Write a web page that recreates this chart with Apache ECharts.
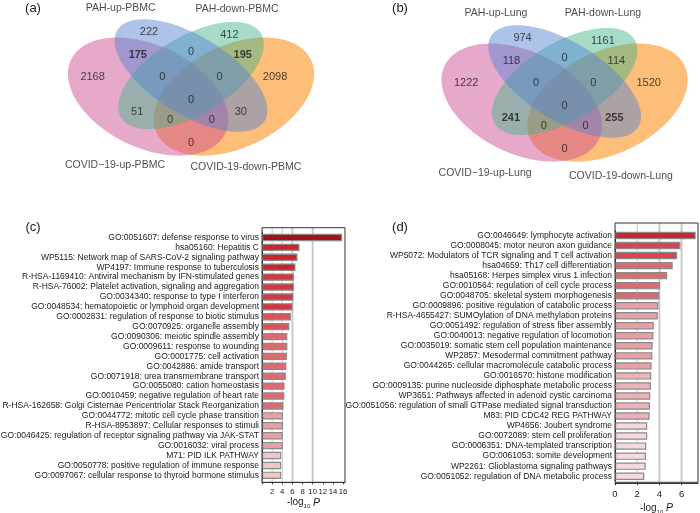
<!DOCTYPE html>
<html><head><meta charset="utf-8">
<script src="https://cdn.jsdelivr.net/npm/echarts@6/dist/echarts.min.js"></script>
<style>html,body{margin:0;padding:0;background:#fff}#c{width:700px;height:513px}</style>
</head><body><div id="c"></div>
<script>
// ---------------- DATA ----------------
// Venn regions: A = COVID-19-up, B = PAH-up, C = PAH-down, D = COVID-19-down
const vennSetsA = ['COVID\u221219-up-PBMC', 'PAH-up-PBMC', 'PAH-down-PBMC', 'COVID-19-down-PBMC'];
const vennSetsB = ['COVID\u221219-up-Lung', 'PAH-up-Lung', 'PAH-down-Lung', 'COVID-19-down-Lung'];
const vennRegions = ['B', 'C', 'AB', 'BC', 'CD', 'A', 'ABC', 'BCD', 'D', 'ABCD', 'AC', 'BD', 'ACD', 'ABD', 'AD'];
const vennCountsA = [222, 412, 175, 0, 195, 2168, 0, 0, 2098, 0, 51, 30, 0, 0, 0];
const vennCountsB = [974, 1161, 118, 0, 114, 1222, 0, 0, 1520, 0, 241, 255, 0, 0, 0];
const vennHighlightA = ['AB', 'CD'];
const vennHighlightB = ['AC', 'BD'];

const catsC = [
  'GO:0051607: defense response to virus',
  'hsa05160: Hepatitis C',
  'WP5115: Network map of SARS-CoV-2 signaling pathway',
  'WP4197: Immune response to tuberculosis',
  'R-HSA-1169410: Antiviral mechanism by IFN-stimulated genes',
  'R-HSA-76002: Platelet activation, signaling and aggregation',
  'GO:0034340: response to type I interferon',
  'GO:0048534: hematopoietic or lymphoid organ development',
  'GO:0002831: regulation of response to biotic stimulus',
  'GO:0070925: organelle assembly',
  'GO:0090306: meiotic spindle assembly',
  'GO:0009611: response to wounding',
  'GO:0001775: cell activation',
  'GO:0042886: amide transport',
  'GO:0071918: urea transmembrane transport',
  'GO:0055080: cation homeostasis',
  'GO:0010459: negative regulation of heart rate',
  'R-HSA-162658: Golgi Cisternae Pericentriolar Stack Reorganization',
  'GO:0044772: mitotic cell cycle phase transition',
  'R-HSA-8953897: Cellular responses to stimuli',
  'GO:0046425: regulation of receptor signaling pathway via JAK-STAT',
  'GO:0016032: viral process',
  'M71: PID ILK PATHWAY',
  'GO:0050778: positive regulation of immune response',
  'GO:0097067: cellular response to thyroid hormone stimulus'
];
const valsC = [15.8, 7.4, 7.0, 6.6, 6.3, 6.3, 6.2, 6.05, 5.7, 5.4, 5.0, 5.0, 4.9, 4.8, 4.7,
               4.45, 4.4, 4.25, 4.15, 4.15, 4.1, 4.1, 3.8, 3.8, 3.8];
const ticksC = [2, 4, 6, 8, 10, 12, 14, 16];

const catsD = [
  'GO:0046649: lymphocyte activation',
  'GO:0008045: motor neuron axon guidance',
  'WP5072: Modulators of TCR signaling and T cell activation',
  'hsa04659: Th17 cell differentiation',
  'hsa05168: Herpes simplex virus 1 infection',
  'GO:0010564: regulation of cell cycle process',
  'GO:0048705: skeletal system morphogenesis',
  'GO:0009896: positive regulation of catabolic process',
  'R-HSA-4655427: SUMOylation of DNA methylation proteins',
  'GO:0051492: regulation of stress fiber assembly',
  'GO:0040013: negative regulation of locomotion',
  'GO:0035019: somatic stem cell population maintenance',
  'WP2857: Mesodermal commitment pathway',
  'GO:0044265: cellular macromolecule catabolic process',
  'GO:0016570: histone modification',
  'GO:0009135: purine nucleoside diphosphate metabolic process',
  'WP3651: Pathways affected in adenoid cystic carcinoma',
  'GO:0051056: regulation of small GTPase mediated signal transduction',
  'M83: PID CDC42 REG PATHWAY',
  'WP4656: Joubert syndrome',
  'GO:0072089: stem cell proliferation',
  'GO:0006351: DNA-templated transcription',
  'GO:0061053: somite development',
  'WP2261: Glioblastoma signaling pathways',
  'GO:0051052: regulation of DNA metabolic process'
];
const valsD = [7.27, 5.9, 5.6, 5.2, 4.7, 4.05, 4.0, 3.9, 3.85, 3.5, 3.47, 3.4, 3.37, 3.3,
               3.27, 3.24, 3.18, 3.15, 3.12, 2.9, 2.9, 2.82, 2.8, 2.77, 2.64];
const ticksD = [0, 2, 4, 6];

// ---------------- LAYOUT / STYLE ----------------
const FONT = '"Liberation Sans", Arial, Helvetica, sans-serif';
// ellipse geometry in unit space (y up)
const ELLIPSES = [
  {cx: 0.65, cy: 0.47, a: 0.33, b: 0.22, rot: 45,  color: 'rgba(250,147,30,0.6)'},   // D orange
  {cx: 0.35, cy: 0.47, a: 0.33, b: 0.22, rot: 135, color: 'rgba(205,75,145,0.48)'},   // A pink
  {cx: 0.50, cy: 0.57, a: 0.32, b: 0.165, rot: 45,  color: 'rgba(70,180,140,0.48)'},  // C green
  {cx: 0.50, cy: 0.57, a: 0.34, b: 0.165, rot: 135, color: 'rgba(85,130,212,0.48)'}   // B blue
];
const REGION_POS = {
  B: [0.353, 0.777], C: [0.634, 0.762], AB: [0.314, 0.667], BC: [0.5, 0.682], CD: [0.681, 0.667],
  A: [0.156, 0.563], ABC: [0.40, 0.563], BCD: [0.60, 0.563], D: [0.794, 0.563], ABCD: [0.5, 0.454],
  AC: [0.312, 0.397], BD: [0.674, 0.397], ACD: [0.427, 0.359], ABD: [0.573, 0.359], AD: [0.5, 0.25]
};
const SETNAME_POS_A = [[0.234, 0.145], [0.254, 0.889], [0.661, 0.886], [0.692, 0.137]];
const SETNAME_POS_B = [[0.222, 0.137], [0.26, 0.895], [0.634, 0.895], [0.697, 0.123]];

function colorC(v) {
  const bins = [[10, '#a3121b'], [6.5, '#cb242b'], [6, '#d2383f'], [5.3, '#d8535a'], [4.2, '#dc6a71'], [4.0, '#e8a0a4'], [0, '#f2c6c9']];
  for (const [t, c] of bins) if (v >= t) return c;
}
function colorD(v) {
  const bins = [[7, '#c8262c'], [5.5, '#d4474d'], [4.0, '#db6b71'], [3.3, '#e8a0a4'], [3.1, '#ecb3b6'], [0, '#f6d9db']];
  for (const [t, c] of bins) if (v >= t) return c;
}

const chart = echarts.init(document.getElementById('c'), null, {renderer: 'canvas'});

function ellipseSeries(k) {
  return {
    type: 'custom', xAxisIndex: k, yAxisIndex: k, clip: false, silent: true, z: 1,
    data: ELLIPSES.map((e, i) => [e.cx, e.cy, i]),
    renderItem: (params, api) => {
      const e = ELLIPSES[params.dataIndex];
      const r = e.rot * Math.PI / 180, pts = [];
      for (let i = 0; i < 120; i++) {
        const t = i / 120 * 2 * Math.PI;
        const u = e.a * Math.cos(t), v = e.b * Math.sin(t);
        pts.push(api.coord([e.cx + u * Math.cos(r) - v * Math.sin(r), e.cy + u * Math.sin(r) + v * Math.cos(r)]));
      }
      return {type: 'polygon', shape: {points: pts}, style: {fill: e.color}};
    }
  };
}
function countSeries(k, counts, hl) {
  return {
    type: 'scatter', xAxisIndex: k, yAxisIndex: k, symbolSize: 0, clip: false, silent: true, z: 5,
    data: vennRegions.map((r, i) => ({
      value: [REGION_POS[r][0], REGION_POS[r][1], counts[i]],
      label: {fontWeight: hl.includes(r) ? 'bold' : 'normal'}
    })),
    label: {show: true, position: 'inside', formatter: p => String(p.value[2]), fontSize: 11, color: '#1a1a1a', fontFamily: FONT}
  };
}
function nameSeries(k, names, pos) {
  return {
    type: 'scatter', xAxisIndex: k, yAxisIndex: k, symbolSize: 0, clip: false, silent: true, z: 5,
    data: names.map((n, i) => ({value: [pos[i][0], pos[i][1]], name: n})),
    label: {show: true, position: 'inside', formatter: p => p.name, fontSize: 10.5, color: '#1a1a1a', fontFamily: FONT}
  };
}
const axisName = '{a|-log}{s|10}{a| }{p|P}';
const axisNameStyle = {
  rich: {
    a: {fontSize: 10, color: '#1a1a1a', fontFamily: FONT, lineHeight: 14, verticalAlign: 'middle'},
    s: {fontSize: 6, color: '#1a1a1a', fontFamily: FONT, lineHeight: 14, verticalAlign: 'bottom'},
    p: {fontSize: 10.5, color: '#1a1a1a', fontFamily: FONT, fontStyle: 'italic', lineHeight: 14, verticalAlign: 'middle'}
  }
};
function barX(k, max, ticks, nameGap, fs) {
  return {
    gridIndex: k, type: 'value', min: 0, max: max, interval: ticks[1] - ticks[0], offset: 2,
    axisLine: {show: true, lineStyle: {color: '#333', width: 1}},
    axisTick: {show: true, length: 2, lineStyle: {color: '#333'}},
    axisLabel: {fontSize: fs, color: '#1a1a1a', fontFamily: FONT, margin: 6, showMaxLabel: false,
      formatter: v => ticks.includes(v) ? String(v) : ''},
    splitLine: {show: false},
    name: axisName, nameLocation: 'middle', nameGap: nameGap, nameTextStyle: axisNameStyle
  };
}
function barY(k, cats) {
  return {
    gridIndex: k, type: 'category', data: cats, inverse: true,
    axisLine: {show: true, lineStyle: {color: '#333', width: 1}},
    axisTick: {show: false},
    axisLabel: {interval: 0, fontSize: 8.5, color: '#1a1a1a', fontFamily: FONT, margin: 3}
  };
}
function barSeries(k, vals, colorFn) {
  return {
    type: 'bar', xAxisIndex: k, yAxisIndex: k, barWidth: 7.4, z: 3, silent: true,
    data: vals.map(v => ({value: v, itemStyle: {color: colorFn(v)}})),
    itemStyle: {borderColor: '#8a8a8a', borderWidth: 1.2}
  };
}

const G = {containLabel: false, outerBoundsMode: 'none'};
const option = {
  animation: false,
  textStyle: {fontFamily: FONT},
  grid: [
    Object.assign({left: 48, top: 6, width: 286, height: 158}, G),
    Object.assign({left: 421.6, top: 12, width: 286, height: 158}, G),
    Object.assign({left: 262, top: 232.5, width: 83, height: 247.8}, G),
    Object.assign({left: 615, top: 230.5, width: 83, height: 250.7}, G)
  ],
  xAxis: [
    {gridIndex: 0, type: 'value', min: 0, max: 1, show: false},
    {gridIndex: 1, type: 'value', min: 0, max: 1, show: false},
    barX(2, 16.37, ticksC, 12, 7.8),
    barX(3, 7.48, ticksD, 18, 9.5)
  ],
  yAxis: [
    {gridIndex: 0, type: 'value', min: 0.15, max: 0.9, show: false},
    {gridIndex: 1, type: 'value', min: 0.15, max: 0.9, show: false},
    barY(2, catsC),
    barY(3, catsD)
  ],
  series: [
    ellipseSeries(0), countSeries(0, vennCountsA, vennHighlightA), nameSeries(0, vennSetsA, SETNAME_POS_A),
    ellipseSeries(1), countSeries(1, vennCountsB, vennHighlightB), nameSeries(1, vennSetsB, SETNAME_POS_B),
    barSeries(2, valsC, colorC),
    barSeries(3, valsD, colorD)
  ]
};
chart.setOption(option);

// frames and reference lines derived from the axes
function vline(k, v, y0, y1, w) {
  const x = chart.convertToPixel({xAxisIndex: k}, v);
  return {type: 'line', z: 1, silent: true, shape: {x1: x, y1: y0, x2: x, y2: y1}, style: {stroke: '#c9c9c9', lineWidth: w}};
}
function frame(k, max, y0, y1) {
  const x0 = chart.convertToPixel({xAxisIndex: k}, 0), x1 = chart.convertToPixel({xAxisIndex: k}, max);
  return {type: 'rect', z: 10, silent: true, shape: {x: x0, y: y0, width: x1 - x0, height: y1 - y0},
    style: {fill: null, stroke: '#333', lineWidth: 1}};
}
const panelText = (t, x, y) => ({type: 'text', x: x, y: y, silent: true,
  style: {text: t, fontSize: 13, fontFamily: FONT, fill: '#1a1a1a', textAlign: 'center', textVerticalAlign: 'middle'}});
chart.setOption({
  graphic: [
    vline(2, 2, 228, 482, 1), vline(2, 4, 228, 482, 1), vline(2, 6, 228, 482, 2), vline(2, 10, 228, 482, 2),
    vline(3, 2, 223, 482, 1), vline(3, 4, 223, 482, 2), vline(3, 6, 223, 482, 2),
    frame(2, 16.37, 227.7, 482.3), frame(3, 7.48, 223, 482.3),
    panelText('(a)', 33, 8), panelText('(b)', 400, 8), panelText('(c)', 33, 227), panelText('(d)', 400, 227)
  ]
});
</script></body></html>
